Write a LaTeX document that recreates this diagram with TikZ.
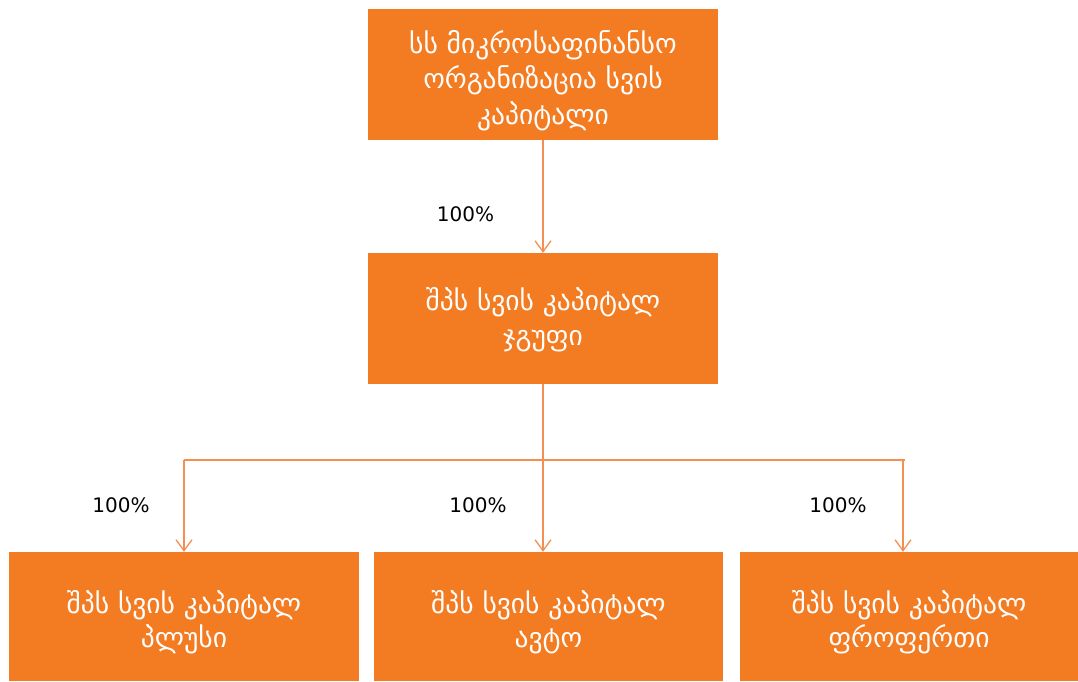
\documentclass[tikz,border=0pt]{standalone}
\usepackage{fontspec}
\setmainfont{DejaVu Sans}
\usetikzlibrary{arrows.meta}
\definecolor{boxorange}{RGB}{243,123,33}
\definecolor{lineorange}{RGB}{245,142,82}
\tikzset{
  orgbox/.style={rectangle, fill=boxorange, text=white, align=center, inner sep=0pt,
    font=\fontsize{27.5}{35.5}\selectfont},
  lowtext/.style={orgbox, fill=none, font=\fontsize{27.5}{34}\selectfont},
  conn/.style={draw=lineorange, line width=1.4pt},
  arr/.style={conn, -{Straight Barb[length=11pt,width=16pt,line width=1.3pt]}},
  pct/.style={font=\fontsize{20}{22}\selectfont, text=black, inner sep=0pt}
}
\begin{document}
\begin{tikzpicture}[x=1pt,y=-1pt]
\useasboundingbox (0,0) rectangle (1078,681);
\node[orgbox, minimum width=350pt, minimum height=131pt] (top) at (543,74.5) {};
\node[orgbox, minimum width=350pt, minimum height=131pt] (mid) at (543,318.5) {};
\node[orgbox, minimum width=350pt, minimum height=129pt] (b1) at (184,616.5) {};
\node[orgbox, minimum width=349pt, minimum height=129pt] (b2) at (548.5,616.5) {};
\node[orgbox, minimum width=338pt, minimum height=129pt] (b3) at (909,616.5) {};
\node[orgbox, fill=none] (ttop) at ([yshift=-6pt]top.center)
  {სს მიკროსაფინანსო\\ორგანიზაცია სვის\\კაპიტალი};
\node[orgbox, fill=none] (tmid) at ([yshift=-1pt]mid.center)
  {შპს სვის კაპიტალ\\ჯგუფი};
\node[lowtext] (tb1) at ([yshift=-6pt]b1.center)
  {შპს სვის კაპიტალ\\პლუსი};
\node[lowtext] (tb2) at ([yshift=-6pt]b2.center)
  {შპს სვის კაპიტალ\\ავტო};
\node[lowtext] (tb3) at ([yshift=-6pt]b3.center)
  {შპს სვის კაპიტალ\\ფროფერთი};
\coordinate (jl) at (184,460);
\coordinate (jr) at (903,460);
\coordinate (jre) at (905,460);
\draw[arr] (top.south) -- (mid.north);
\draw[conn] (jl) -- (jre);
\draw[arr] (mid.south) -- (mid.south |- b2.north);
\draw[arr] (jl) -- (jl |- b1.north);
\draw[arr] (jr) -- (jr |- b3.north);
\node[pct] (p0) at (465.5,214) {100\%};
\node[pct] (p1) at (121,505.5) {100\%};
\node[pct] (p2) at (478,505.5) {100\%};
\node[pct] (p3) at (838,505.5) {100\%};
\end{tikzpicture}
\end{document}
